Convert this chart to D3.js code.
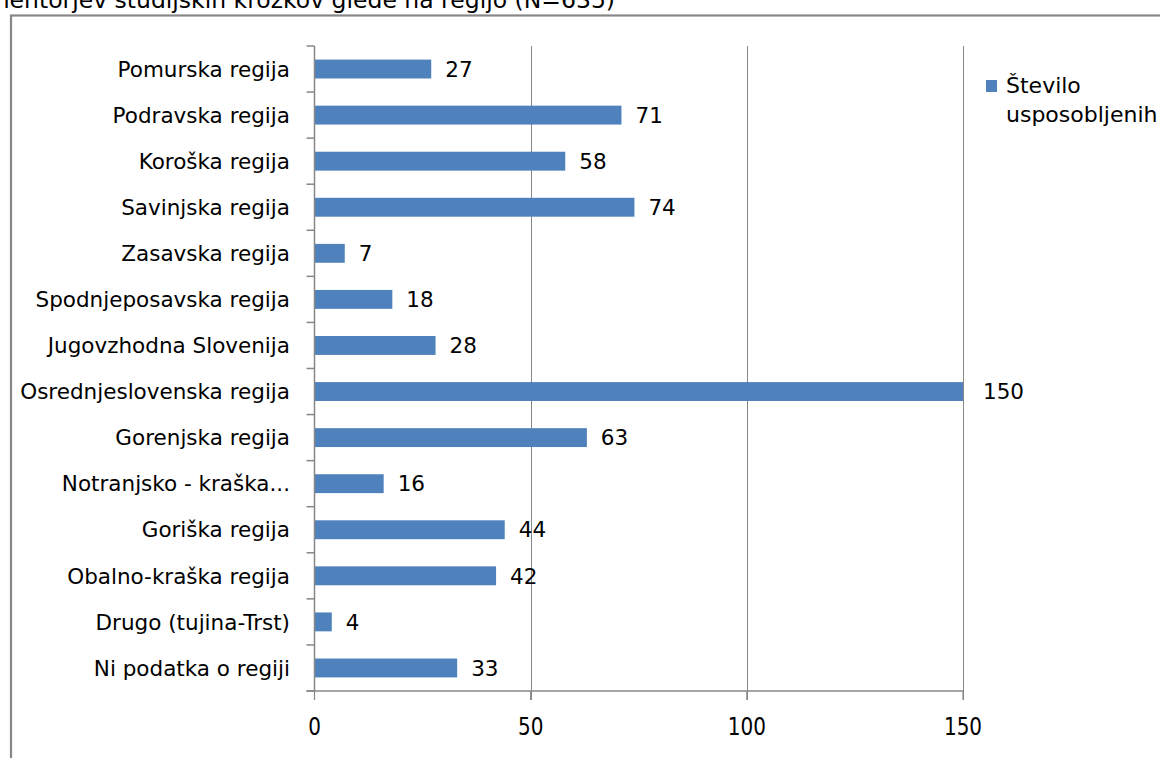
<!DOCTYPE html>
<html><head><meta charset="utf-8">
<script src="https://cdn.jsdelivr.net/npm/d3@7"></script>
<style>body{margin:0;background:#fff;overflow:hidden}svg{display:block}</style>
</head><body>
<script>
const categories = ["Pomurska regija","Podravska regija","Koroška regija","Savinjska regija","Zasavska regija","Spodnjeposavska regija","Jugovzhodna Slovenija","Osrednjeslovenska regija","Gorenjska regija","Notranjsko - kraška...","Goriška regija","Obalno-kraška regija","Drugo (tujina-Trst)","Ni podatka o regiji"];
const values = [27,71,58,74,7,18,28,150,63,16,44,42,4,33];
const tickValues = [0,50,100,150];
const seriesName = ["Število","usposobljenih"];
const titleText = "mentorjev študijskih krožkov glede na regijo (N=635)";

const W = 1160, H = 758;
const font = "'DejaVu Sans', Verdana, sans-serif";
const svg = d3.select("body").append("svg").attr("width", W).attr("height", H);

// frame
svg.append("rect").attr("x", 11).attr("y", 15.5).attr("width", 1300).attr("height", 900)
  .attr("fill", "none").attr("stroke", "#878787").attr("stroke-width", 2.2);

// partial title (cut off at the top edge, as in the reference)
svg.append("text").attr("x", 615).attr("y", 8).attr("text-anchor", "end")
  .attr("font-family", font).attr("font-size", 23.5).attr("fill", "#000").text(titleText);

const m = {left: 314.5, right: 963, top: 46, bottom: 691};
const x = d3.scaleLinear().domain([0,150]).range([m.left, m.right]);
const y = d3.scaleBand().domain(categories).range([m.top, m.bottom]).paddingInner(0.59).paddingOuter(0.295);
const step = y.step();

// grid lines
svg.append("g").selectAll("line").data(tickValues.slice(1)).join("line")
  .attr("x1", d => Math.round(x(d)) + 0.5).attr("x2", d => Math.round(x(d)) + 0.5)
  .attr("y1", m.top).attr("y2", m.bottom + 9)
  .attr("stroke", "#878787").attr("stroke-width", 1);

// bars
svg.append("g").selectAll("rect").data(values).join("rect")
  .attr("x", x(0)).attr("y", (d,i) => y(categories[i]))
  .attr("width", d => x(d) - x(0)).attr("height", y.bandwidth())
  .attr("fill", "#4F81BD");

// value labels
svg.append("g").selectAll("text").data(values).join("text")
  .attr("x", d => x(d) + (d >= 100 ? 20 : 14))
  .attr("y", (d,i) => y(categories[i]) + y.bandwidth()/2)
  .attr("dy", "0.36em")
  .attr("font-family", font).attr("font-size", 21.5).attr("fill", "#000")
  .text(d => d);

// y axis
const yAxis = svg.append("g");
yAxis.append("line").attr("x1", m.left).attr("x2", m.left).attr("y1", m.top).attr("y2", m.bottom)
  .attr("stroke", "#878787").attr("stroke-width", 1.5);
const bounds = d3.range(categories.length + 1).map(i => m.top + i * step);
yAxis.selectAll("line.t").data(bounds).join("line").attr("class","t")
  .attr("x1", m.left - 8).attr("x2", m.left)
  .attr("y1", d => d).attr("y2", d => d)
  .attr("stroke", "#878787").attr("stroke-width", 1.5);
yAxis.selectAll("text").data(categories).join("text")
  .attr("x", 290).attr("y", d => y(d) + y.bandwidth()/2).attr("dy", "0.36em")
  .attr("text-anchor", "end").attr("font-family", font).attr("font-size", 21.5).attr("fill", "#000")
  .text(d => d);

// x axis
const xAxis = svg.append("g");
xAxis.append("line").attr("x1", m.left - 8).attr("x2", m.right).attr("y1", m.bottom).attr("y2", m.bottom)
  .attr("stroke", "#878787").attr("stroke-width", 1.5);
xAxis.selectAll("line.t").data(tickValues).join("line").attr("class","t")
  .attr("x1", d => x(d)).attr("x2", d => x(d)).attr("y1", m.bottom).attr("y2", m.bottom + 9)
  .attr("stroke", "#878787").attr("stroke-width", 1.2);
xAxis.selectAll("text").data(tickValues).join("text")
  .attr("transform", d => `translate(${x(d)},726) scale(1,1.2)`)
  .attr("dy", "0.36em").attr("text-anchor", "middle")
  .attr("font-family", font).attr("font-size", 20).attr("fill", "#000")
  .text(d => d);

// legend
svg.append("rect").attr("x", 986).attr("y", 80).attr("width", 11).attr("height", 12).attr("fill", "#4F81BD");
svg.append("g").selectAll("text").data(seriesName).join("text")
  .attr("x", 1006).attr("y", (d,i) => 93 + i * 29)
  .attr("font-family", font).attr("font-size", 22).attr("fill", "#000")
  .text(d => d);
</script>
</body></html>
